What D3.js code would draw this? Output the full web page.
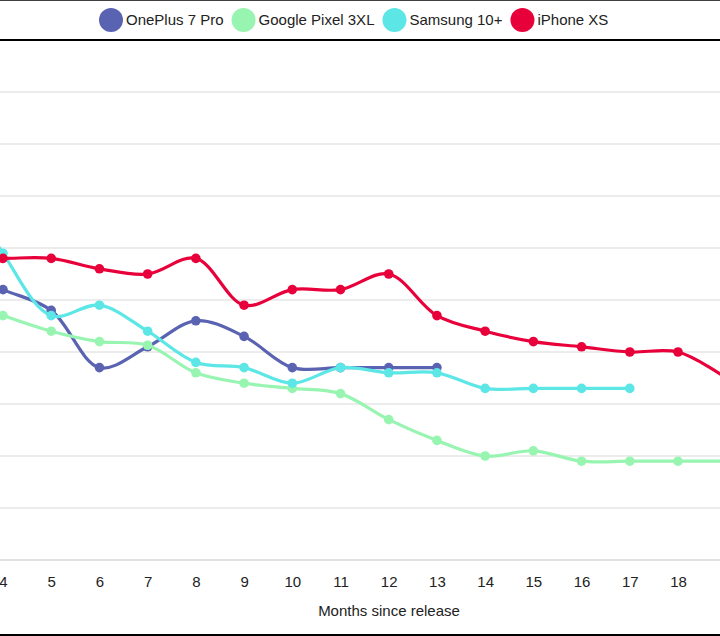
<!DOCTYPE html>
<html>
<head>
<meta charset="utf-8">
<script src="https://cdn.jsdelivr.net/npm/d3@7"></script>
<style>
  body { margin: 0; background: #fff; }
  svg { display: block; font-family: "Liberation Sans", Arial, sans-serif; }
</style>
</head>
<body>
<svg id="chart" width="720" height="636"></svg>
<script>
// Months on the x axis (chart is cropped: 3 and 19 sit just off the edges)
const months = [3, 4, 5, 6, 7, 8, 9, 10, 11, 12, 13, 14, 15, 16, 17, 18, 19];
const tickMonths = [4, 5, 6, 7, 8, 9, 10, 11, 12, 13, 14, 15, 16, 17, 18];
const yTicks = [0, 10, 20, 30, 40, 50, 60, 70, 80, 90, 100];

// % of launch value retained
const onePlus = [56, 52, 48, 37, 41, 46, 43, 37, 37, 37, 37];
const pixel = [50, 47, 44, 42, 41.3, 36, 34, 33, 32, 27, 23, 20, 21, 19, 19, 19, 19];
const samsung = [75, 59, 47, 49, 44, 38, 37, 34, 37, 36, 36, 33, 33, 33, 33];
const iphone = [58, 58, 58, 56, 55, 58, 49, 52, 52, 55, 47, 44, 42, 41, 40, 40, 35];

const seriesNames = ['OnePlus 7 Pro', 'Google Pixel 3XL', 'Samsung 10+', 'iPhone XS'];
const seriesColors = ['#5a63b1', '#98f5b1', '#5de6e6', '#e8003b'];
const seriesValues = [onePlus, pixel, samsung, iphone];

const svg = d3.select('#chart');

const x = d3.scaleLinear().domain([4, 18]).range([3, 678]);
const y = d3.scaleLinear().domain([0, 100]).range([560, 40]);

// grid lines
svg.append('g')
    .selectAll('line')
    .data(yTicks)
    .join('line')
    .attr('x1', 0).attr('x2', 720)
    .attr('y1', d => y(d)).attr('y2', d => y(d))
    .attr('stroke', d => d === 0 ? '#c4c4c4' : '#d9d9d9')
    .attr('stroke-width', 1.2);

// x axis labels
const xAxis = svg.append('g')
    .attr('transform', 'translate(0,560)')
    .call(d3.axisBottom(x).tickValues(tickMonths).tickSize(0).tickPadding(16));
xAxis.select('.domain').remove();
xAxis.selectAll('text')
    .attr('font-size', 15)
    .attr('font-family', '"Liberation Sans", Arial, sans-serif')
    .attr('fill', '#222');

svg.append('text')
    .attr('x', 389).attr('y', 616)
    .attr('text-anchor', 'middle')
    .attr('font-size', 15)
    .attr('fill', '#222')
    .text('Months since release');

// lines + points
const line = d3.line()
    .x(d => x(d[0]))
    .y(d => y(d[1]))
    .curve(d3.curveCatmullRom.alpha(0.5));

seriesValues.forEach((vals, i) => {
    const pts = vals.map((v, j) => [months[j], v]);
    const g = svg.append('g');
    g.append('path')
        .datum(pts)
        .attr('d', line)
        .attr('fill', 'none')
        .attr('stroke', seriesColors[i])
        .attr('stroke-width', 3.2);
    g.selectAll('circle')
        .data(pts)
        .join('circle')
        .attr('cx', d => x(d[0]))
        .attr('cy', d => y(d[1]))
        .attr('r', 4.8)
        .attr('fill', seriesColors[i]);
});

// frame lines
svg.append('rect').attr('x', 0).attr('y', 0).attr('width', 720).attr('height', 40).attr('fill', '#fff');
[[0, 1.5], [40, 2], [635, 2]].forEach(d => {
    svg.append('line')
        .attr('x1', 0).attr('x2', 720)
        .attr('y1', d[0]).attr('y2', d[0])
        .attr('stroke', '#000')
        .attr('stroke-width', d[1]);
});

// legend
const legend = svg.append('g');
let lx = 111;
seriesNames.forEach((name, i) => {
    legend.append('circle')
        .attr('cx', lx).attr('cy', 20).attr('r', 12)
        .attr('fill', seriesColors[i]);
    const t = legend.append('text')
        .attr('x', lx + 15).attr('y', 25)
        .attr('font-size', 15)
        .attr('fill', '#222')
        .text(name);
    lx += 15 + t.node().getComputedTextLength() + 20;
});
</script>
</body>
</html>
